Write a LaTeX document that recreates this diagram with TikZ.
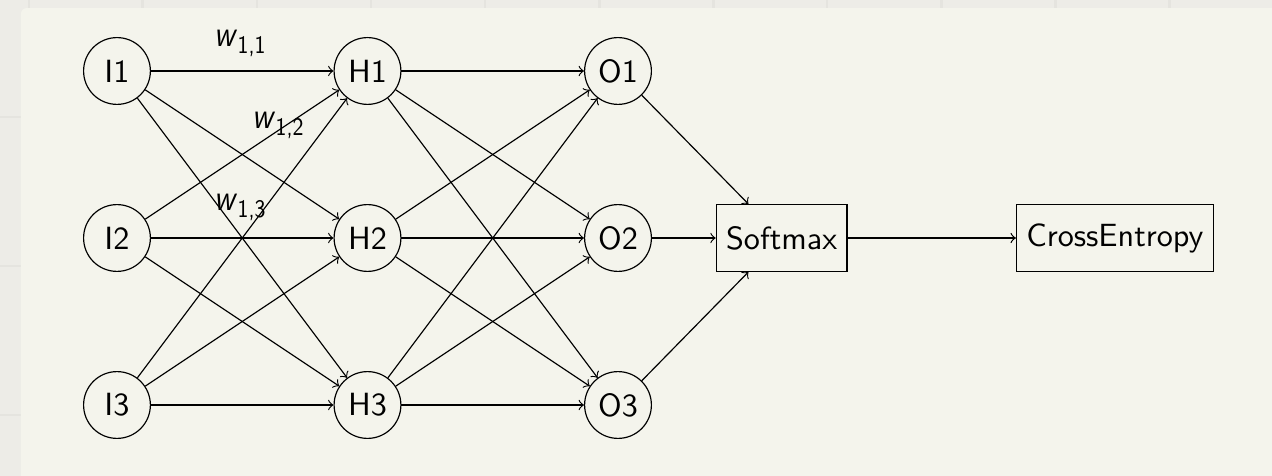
\documentclass[tikz,border=0pt]{standalone}
\usepackage{fontspec}
\usepackage{graphicx}
\definecolor{pagebg}{RGB}{237,236,231}
\definecolor{gridln}{RGB}{229,228,223}
\definecolor{cardbg}{RGB}{244,244,236}
% weight symbol with a lowered index, narrow sans italic
\newcommand{\wsub}[1]{\scalebox{0.84}[1]{{\fontsize{12.6}{14}\selectfont\textit{w}}\raisebox{-2.4pt}{\fontsize{8.6}{10}\selectfont #1}}}
\begin{document}
\begin{tikzpicture}[
  >=to,
  txt/.style={font=\fontsize{10.95}{13}\selectfont\sffamily},
  neuron/.style={txt, circle, draw, minimum size=0.8cm, inner sep=0pt},
  block/.style={txt, rectangle, draw, minimum height=0.8cm, inner sep=3.33pt},
  wlabel/.style={txt, inner sep=0pt},
  link/.style={->, line width=0.4pt}
]
% page frame and background
\useasboundingbox (-1.401,-0.850) rectangle (13.832,4.850);
\begin{scope}
  \clip (-1.401,-0.850) rectangle (13.832,4.850);
  \fill[pagebg] (-1.401,-0.850) rectangle (13.832,4.850);
  \foreach \gx in {-1.054,0.311,1.677,3.042,4.407,5.773,7.138,8.503,9.869,11.234,12.599}
    \draw[gridln, line width=1pt] (\gx,-0.850) -- (\gx,4.850);
  \foreach \gy in {3.449,1.665,-0.120}
    \draw[gridln, line width=1pt] (-1.401,\gy) -- (13.832,\gy);
  \fill[cardbg, rounded corners=0.07cm] (-1.150,-2) rectangle (15,4.754);
\end{scope}

% input layer
\node[neuron] (I1) at (0,4) {I1};
\node[neuron] (I2) at (0,2) {I2};
\node[neuron] (I3) at (0,0) {I3};
% hidden layer
\node[neuron] (H1) at (3,4) {H1};
\node[neuron] (H2) at (3,2) {H2};
\node[neuron] (H3) at (3,0) {H3};
% output layer
\node[neuron] (O1) at (6,4) {O1};
\node[neuron] (O2) at (6,2) {O2};
\node[neuron] (O3) at (6,0) {O3};
% softmax and loss
\node[block] (SM) at (7.96,2) {Softmax};
\node[block] (CE) at (11.95,2) {CrossEntropy};

% fully connected weights
\foreach \i in {1,2,3}
  \foreach \h in {1,2,3}
    \draw[link] (I\i) -- (H\h);
\foreach \h in {1,2,3}
  \foreach \o in {1,2,3}
    \draw[link] (H\h) -- (O\o);
\foreach \o in {1,2,3}
  \draw[link] (O\o) -- (SM);
\draw[link] (SM) -- (CE);

% weight labels
\node[wlabel] (w11) at (1.473,4.335) {\wsub{1,1}};
\node[wlabel] (w12) at (1.928,3.353) {\wsub{1,2}};
\node[wlabel] (w13) at (1.473,2.371) {\wsub{1,3}};
\end{tikzpicture}
\end{document}
